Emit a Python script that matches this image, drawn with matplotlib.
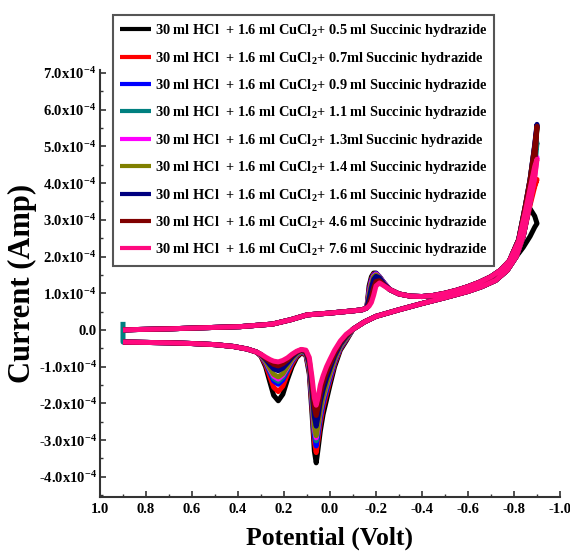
import matplotlib
matplotlib.use("Agg")
import matplotlib.pyplot as plt
from matplotlib.ticker import FixedLocator, MultipleLocator

plt.rcParams['font.family'] = ['Liberation Serif', 'DejaVu Serif']
plt.rcParams['font.weight'] = 'bold'
plt.rcParams['mathtext.fontset'] = 'custom'
plt.rcParams['mathtext.rm'] = 'Liberation Serif:bold'
plt.rcParams['mathtext.it'] = 'Liberation Serif:bold:italic'
plt.rcParams['mathtext.bf'] = 'Liberation Serif:bold'
plt.rcParams['axes.unicode_minus'] = False

# ---------------- data (current in units of 1e-4 A) ----------------
additions = ["0.5 ml", "0.7ml", "0.9 ml", "1.1 ml", "1.3ml", "1.4 ml", "1.6 ml", "4.6 ml", "7.6 ml"]
colors = ["#000000", "#ff0000", "#0000ff", "#008080", "#ff00ff", "#808000", "#000080", "#800000", "#ff0a7f"]

# forward scan start (shared)
E_start = [0.90, 0.80, 0.70, 0.60, 0.50, 0.42, 0.36, 0.32]
I_start = [-0.33, -0.34, -0.35, -0.37, -0.40, -0.45, -0.52, -0.60]

# cathodic peak region (per series)
E_dip = [0.30, 0.28, 0.26, 0.245, 0.225, 0.205, 0.185, 0.165, 0.145, 0.125, 0.105,
         0.09, 0.078, 0.068, 0.06, 0.052, 0.042, 0.03, 0.015, 0.0, -0.02, -0.045, -0.07]
I_dip_black = [-0.72, -1.00, -1.45, -1.78, -1.93, -1.75, -1.35, -1.00, -0.75, -0.63, -0.68,
               -1.20, -2.30, -3.30, -3.62, -3.25, -2.75, -2.30, -1.90, -1.50, -1.00, -0.55, -0.30]
I_dip_red = [-0.71, -0.94, -1.30, -1.56, -1.68, -1.53, -1.21, -0.92, -0.71, -0.61, -0.66,
             -1.12, -2.12, -3.04, -3.34, -3.00, -2.53, -2.11, -1.74, -1.37, -0.92, -0.51, -0.27]
I_dip_blue = [-0.69, -0.89, -1.18, -1.39, -1.48, -1.36, -1.10, -0.86, -0.68, -0.59, -0.64,
              -1.07, -2.01, -2.88, -3.16, -2.84, -2.39, -2.00, -1.64, -1.30, -0.87, -0.48, -0.25]
I_dip_teal = [-0.69, -0.87, -1.13, -1.32, -1.40, -1.29, -1.06, -0.83, -0.67, -0.58, -0.63,
              -1.03, -1.92, -2.75, -3.02, -2.72, -2.28, -1.90, -1.56, -1.23, -0.83, -0.46, -0.23]
I_dip_magenta = [-0.69, -0.85, -1.09, -1.26, -1.34, -1.23, -1.02, -0.81, -0.65, -0.57, -0.62,
                 -1.01, -1.87, -2.68, -2.94, -2.65, -2.21, -1.85, -1.51, -1.20, -0.81, -0.44, -0.22]
I_dip_olive = [-0.68, -0.84, -1.06, -1.21, -1.28, -1.19, -0.99, -0.79, -0.65, -0.57, -0.62,
               -0.99, -1.83, -2.62, -2.88, -2.59, -2.16, -1.81, -1.48, -1.17, -0.79, -0.43, -0.22]
I_dip_navy = [-0.67, -0.80, -0.96, -1.06, -1.11, -1.04, -0.90, -0.74, -0.62, -0.55, -0.60,
              -0.91, -1.66, -2.37, -2.62, -2.35, -1.95, -1.63, -1.32, -1.05, -0.71, -0.39, -0.18]
I_dip_brown = [-0.67, -0.77, -0.87, -0.94, -0.98, -0.92, -0.82, -0.69, -0.60, -0.54, -0.57,
               -0.83, -1.48, -2.11, -2.33, -2.10, -1.73, -1.44, -1.16, -0.93, -0.63, -0.34, -0.15]
I_dip_pink = [-0.66, -0.74, -0.81, -0.85, -0.87, -0.83, -0.76, -0.66, -0.58, -0.53, -0.55,
              -0.75, -1.30, -1.85, -2.05, -1.85, -1.50, -1.25, -1.00, -0.80, -0.55, -0.30, -0.12]

# forward scan towards the vertex (shared)
E_mid = [-0.10, -0.15, -0.20, -0.30, -0.40, -0.50, -0.60, -0.66, -0.72, -0.77, -0.81]
I_mid = [0.02, 0.22, 0.37, 0.55, 0.72, 0.88, 1.05, 1.18, 1.35, 1.62, 2.00]

# vertex region (per series): forward end, then return start
E_vtx = [-0.84, -0.87, -0.89, -0.90]
E_turn = [-0.89, -0.87, -0.85, -0.82]
I_vtx_black = [2.25, 2.55, 2.80, 2.90]
I_vtx_red = [2.55, 3.40, 3.90, 4.10]
I_vtx_blue = [2.55, 3.50, 4.60, 5.55]
I_vtx_teal = [2.55, 3.50, 4.40, 5.10]
I_vtx_magenta = [2.55, 3.50, 4.20, 4.70]
I_vtx_olive = [2.55, 3.50, 4.60, 5.50]
I_vtx_navy = [2.55, 3.50, 4.60, 5.60]
I_vtx_brown = [2.55, 3.50, 4.60, 5.55]
I_vtx_pink = [2.55, 3.45, 4.15, 4.65]
I_turn_black = [3.10, 3.30, 3.00, 2.45]
I_turn_red = [3.95, 3.60, 3.20, 2.45]
I_turn_blue = [5.00, 4.10, 3.40, 2.45]
I_turn_teal = [4.80, 4.00, 3.35, 2.45]
I_turn_magenta = [4.50, 3.90, 3.30, 2.45]
I_turn_olive = [5.00, 4.10, 3.40, 2.45]
I_turn_navy = [5.05, 4.10, 3.40, 2.45]
I_turn_brown = [5.00, 4.10, 3.40, 2.45]
I_turn_pink = [4.45, 3.85, 3.25, 2.42]

# return scan (shared)
E_ret = [-0.78, -0.74, -0.70, -0.65, -0.60, -0.55, -0.50, -0.45, -0.40, -0.35, -0.30, -0.26]
I_ret = [1.88, 1.62, 1.45, 1.30, 1.18, 1.08, 1.00, 0.94, 0.91, 0.92, 0.98, 1.10]

# anodic peak (per series)
E_pk = [-0.235, -0.215, -0.20, -0.19, -0.18, -0.17]
I_pk_black = [1.28, 1.45, 1.55, 1.55, 1.45, 1.20]
I_pk_red = [1.28, 1.45, 1.54, 1.52, 1.38, 1.10]
I_pk_blue = [1.28, 1.45, 1.54, 1.50, 1.35, 1.05]
I_pk_teal = [1.27, 1.44, 1.52, 1.47, 1.30, 1.00]
I_pk_magenta = [1.27, 1.44, 1.52, 1.47, 1.30, 1.00]
I_pk_olive = [1.25, 1.43, 1.50, 1.45, 1.25, 0.95]
I_pk_navy = [1.25, 1.42, 1.46, 1.38, 1.15, 0.85]
I_pk_brown = [1.22, 1.34, 1.32, 1.15, 0.90, 0.70]
I_pk_pink = [1.20, 1.28, 1.20, 0.95, 0.75, 0.65]

# return scan end (shared)
E_end = [-0.16, -0.14, -0.10, -0.05, 0.0, 0.10, 0.17, 0.25, 0.39, 0.55, 0.70, 0.85, 0.90]
I_end = [0.60, 0.55, 0.52, 0.49, 0.46, 0.41, 0.28, 0.16, 0.09, 0.06, 0.03, 0.01, 0.0]

# small initial spike of the 1.1 ml curve
teal_spike_E = [0.90]
teal_spike_I = [0.22]

I_dip = [I_dip_black, I_dip_red, I_dip_blue, I_dip_teal, I_dip_magenta, I_dip_olive, I_dip_navy, I_dip_brown, I_dip_pink]
I_vtx = [I_vtx_black, I_vtx_red, I_vtx_blue, I_vtx_teal, I_vtx_magenta, I_vtx_olive, I_vtx_navy, I_vtx_brown, I_vtx_pink]
I_turn = [I_turn_black, I_turn_red, I_turn_blue, I_turn_teal, I_turn_magenta, I_turn_olive, I_turn_navy, I_turn_brown, I_turn_pink]
I_pk = [I_pk_black, I_pk_red, I_pk_blue, I_pk_teal, I_pk_magenta, I_pk_olive, I_pk_navy, I_pk_brown, I_pk_pink]

x_ticks = [1.0, 0.8, 0.6, 0.4, 0.2, 0.0, -0.2, -0.4, -0.6, -0.8, -1.0]
x_ticklabels = ["1.0", "0.8", "0.6", "0.4", "0.2", "0.0", "-0.2", "-0.4", "-0.6", "-0.8", "-1.0"]
y_ticks = [-4, -3, -2, -1, 0, 1, 2, 3, 4, 5, 6, 7]

# ---------------- figure ----------------
fig = plt.figure(figsize=(5.7, 5.56), dpi=100)
ax = fig.add_axes([100 / 570, 59 / 556, 460 / 570, 427 / 556])

for k in range(len(additions)):
    E = E_start + E_dip + E_mid + E_vtx + E_turn + E_ret + E_pk + E_end
    I = I_start + I_dip[k] + I_mid + I_vtx[k] + I_turn[k] + I_ret + I_pk[k] + I_end
    if k == 3:
        E = teal_spike_E + E
        I = teal_spike_I + I
    label = r"30 ml HCl  + 1.6 ml CuCl$_2$+ " + additions[k] + " Succinic hydrazide"
    ax.plot(E, I, color=colors[k], lw=3.6, solid_joinstyle='round', solid_capstyle='butt', label=label)

ax.set_xlim(1.0, -1.0)
ax.set_ylim(-4.55, 7.08)

ax.xaxis.set_major_locator(FixedLocator(x_ticks))
ax.set_xticklabels(x_ticklabels)
ax.xaxis.set_minor_locator(MultipleLocator(0.1))
ax.yaxis.set_major_locator(FixedLocator(y_ticks))
ax.yaxis.set_minor_locator(MultipleLocator(0.5))


def ylab(v):
    if v == 0:
        return "0.0"
    return "%.1fx10$^{-4}$" % v


ax.set_yticklabels([ylab(v) for v in y_ticks])

for s in ['top', 'right']:
    ax.spines[s].set_visible(False)
for s in ['left', 'bottom']:
    ax.spines[s].set_linewidth(1.5)
    ax.spines[s].set_color('#333333')

ax.tick_params(axis='both', which='major', direction='in', length=4, width=1.2, colors='#333333', labelcolor='black')
ax.tick_params(axis='both', which='minor', direction='in', length=2.5, width=1.0, colors='#333333')
ax.tick_params(axis='x', which='major', pad=4, labelsize=10.5)
ax.tick_params(axis='y', which='major', pad=2.5, labelsize=10.5)
for t in ax.get_xticklabels() + ax.get_yticklabels():
    t.set_fontweight('bold')

ax.set_xlabel("Potential (Volt)", fontsize=18.5, fontweight='bold', labelpad=8)
ax.set_ylabel("Current (Amp)", fontsize=22, fontweight='bold', labelpad=1)

leg = ax.legend(loc='upper left', bbox_to_anchor=(113 / 570, 1 - 15 / 556), bbox_transform=fig.transFigure,
                borderaxespad=0, frameon=True, fancybox=False, edgecolor='#555555', framealpha=1,
                prop={'family': 'Liberation Serif', 'weight': 'bold', 'size': 10.4},
                handlelength=2.1, handletextpad=0.3, labelspacing=0.72, borderpad=0.5)
leg.get_frame().set_linewidth(1.5)
for h in leg.get_lines():
    h.set_linewidth(3.0)

fig.savefig("out.png", dpi=100)
